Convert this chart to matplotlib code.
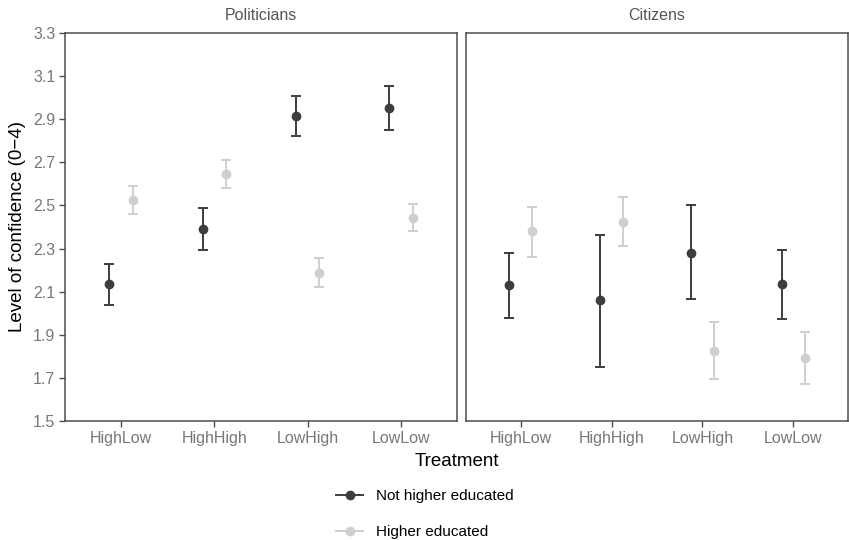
import numpy as np
import matplotlib
matplotlib.use("Agg")
import matplotlib.pyplot as plt
from matplotlib.lines import Line2D

plt.rcParams['font.family'] = ['Liberation Sans', 'DejaVu Sans']

treatments = ['HighLow', 'HighHigh', 'LowHigh', 'LowLow']
panels = ['Politicians', 'Citizens']
groups = ['Not higher educated', 'Higher educated']
colors = ['#3d3d3d', '#cfcfcf']

# means and 95% CI bounds, [panel][group][treatment]
means = {
    'Politicians': [[2.135, 2.39, 2.915, 2.95], [2.525, 2.645, 2.185, 2.44]],
    'Citizens': [[2.13, 2.06, 2.28, 2.135], [2.38, 2.425, 1.825, 1.79]],
}
lower = {
    'Politicians': [[2.04, 2.295, 2.82, 2.85], [2.46, 2.58, 2.12, 2.38]],
    'Citizens': [[1.98, 1.75, 2.065, 1.975], [2.26, 2.31, 1.695, 1.67]],
}
upper = {
    'Politicians': [[2.23, 2.49, 3.01, 3.055], [2.59, 2.71, 2.255, 2.505]],
    'Citizens': [[2.28, 2.365, 2.50, 2.295], [2.495, 2.54, 1.96, 1.915]],
}
yticks = [1.5, 1.7, 1.9, 2.1, 2.3, 2.5, 2.7, 2.9, 3.1, 3.3]

W, H = 849, 540
fig = plt.figure(figsize=(W / 100, H / 100), dpi=100)
boxes = [(65, 457), (466, 848)]
top, bottom = 33, 421

x = np.arange(1, len(treatments) + 1)
offsets = [-0.125, 0.125]
axes = []
for i, (panel, (x0, x1)) in enumerate(zip(panels, boxes)):
    ax = fig.add_axes([x0 / W, (H - bottom) / H, (x1 - x0) / W, (bottom - top) / H])
    for g in range(2):
        m = np.array(means[panel][g])
        lo = np.array(lower[panel][g])
        hi = np.array(upper[panel][g])
        ax.errorbar(x + offsets[g], m, yerr=[m - lo, hi - m], fmt='o', color=colors[g],
                    ms=6, elinewidth=1.4, capsize=3.6, capthick=1.4)
    ax.set_xlim(0.4, 4.6)
    ax.set_ylim(1.5, 3.3)
    ax.set_xticks(x)
    ax.set_xticklabels(treatments)
    ax.set_yticks(yticks)
    ax.set_yticklabels([f'{v:.1f}' for v in yticks])
    if i > 0:
        ax.tick_params(axis='y', left=False, labelleft=False)
    ax.tick_params(colors='#4d4d4d', labelcolor='#777777', labelsize=11.5,
                   length=4, width=1, pad=3)
    for sp in ax.spines.values():
        sp.set_color('#4d4d4d')
        sp.set_linewidth(1.1)
    ax.set_title(panel, fontsize=11.5, color='#555555', pad=9)
    axes.append(ax)

axes[0].set_ylabel('Level of confidence (0\u22124)', fontsize=13.5, labelpad=5)
fig.text((65 + 848) / 2 / W, 1 - 461 / H, 'Treatment', ha='center', va='center', fontsize=13.5)

handles = [Line2D([0], [0], color=c, marker='o', ms=6, lw=1.4) for c in colors]
fig.legend(handles, groups, loc='center', bbox_to_anchor=(0.5, 1 - 514 / H),
           frameon=False, fontsize=11, labelspacing=1.45, handlelength=1.8)

fig.savefig('out.png', dpi=100)
